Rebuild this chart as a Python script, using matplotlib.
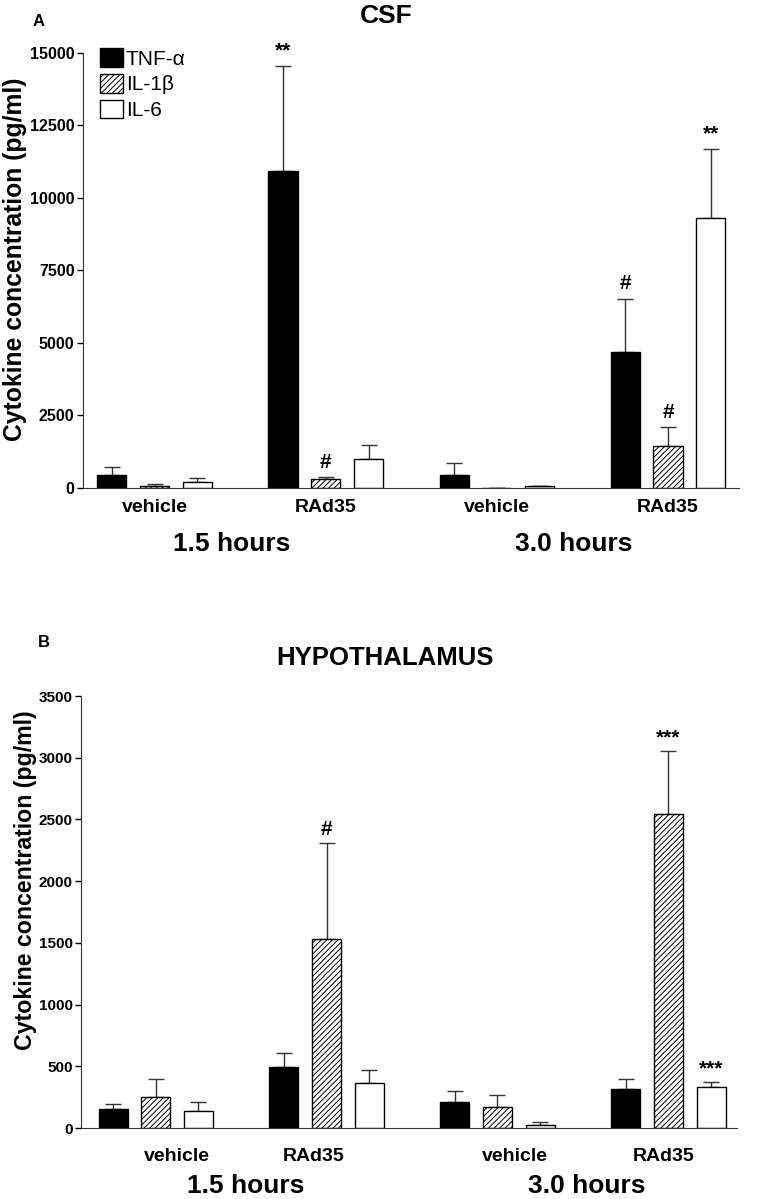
import matplotlib
matplotlib.use("Agg")
import matplotlib.pyplot as plt
import numpy as np

plt.rcParams['font.family'] = ['Liberation Sans', 'DejaVu Sans']
plt.rcParams['font.weight'] = 'bold'
plt.rcParams['hatch.linewidth'] = 0.7

cytokines = ['TNF-α', 'IL-1β', 'IL-6']
groups = ['vehicle', 'RAd35', 'vehicle', 'RAd35']
times = ['1.5 hours', '3.0 hours']

# CSF (pg/ml): mean and top of error bar, per group
csf_tnf = [442, 10914, 430, 4678]
csf_tnf_err = [698, 14545, 849, 6494]
csf_il1 = [58, 302, 0, 1420]
csf_il1_err = [105, 349, 0, 2075]
csf_il6 = [186, 1000, 35, 9293]
csf_il6_err = [337, 1477, 58, 11672]
csf_marks = [['', '**', '', '#'], ['', '#', '', '#'], ['', '', '', '**']]

# hypothalamus (pg/ml)
hyp_tnf = [157, 495, 211, 319]
hyp_tnf_err = [197, 605, 303, 397]
hyp_il1 = [249, 1535, 170, 2545]
hyp_il1_err = [395, 2312, 268, 3057]
hyp_il6 = [135, 362, 27, 332]
hyp_il6_err = [211, 473, 49, 370]
hyp_marks = [['', '', '', ''], ['', '#', '', '***'], ['', '', '', '***']]

faces = ['black', 'white', 'white']
hatches = [None, '//////', None]
group_x = np.arange(4) * 4.0
offsets = [-1, 0, 1]
width = 0.68


def draw_panel(ax, means, tops, marks, ymax, step, fs_tick, star_pad):
    for i in range(3):
        xs = group_x + offsets[i]
        m = np.array(means[i])
        up = np.array(tops[i]) - m
        ax.errorbar(xs, m, yerr=[np.zeros(4), up], fmt='none', ecolor='#333333',
                    elinewidth=1.0, capsize=5.5, capthick=1.0, zorder=1)
        ax.bar(xs, m, width=width, color=faces[i], edgecolor='black',
               hatch=hatches[i], linewidth=1.0, label=cytokines[i], zorder=2)
        for j in range(4):
            if marks[i][j]:
                ax.text(xs[j], tops[i][j] + star_pad, marks[i][j], ha='center',
                        va='bottom', fontsize=15, fontweight='bold')
    ax.set_ylim(0, ymax)
    ax.set_yticks(np.arange(0, ymax + 1, step))
    ax.set_xticks([])
    for s in ['top', 'right']:
        ax.spines[s].set_visible(False)
    ax.spines['left'].set_color('#333333')
    ax.spines['bottom'].set_color('#333333')
    ax.tick_params(axis='y', direction='out', length=4, width=1, labelsize=fs_tick, pad=2)
    for lbl in ax.get_yticklabels():
        lbl.set_fontweight('bold')


fig = plt.figure(figsize=(7.67, 11.99), dpi=100)

# panel A
axA = fig.add_axes([0.108, 0.5934, 0.8555, 0.3627])
draw_panel(axA, [csf_tnf, csf_il1, csf_il6], [csf_tnf_err, csf_il1_err, csf_il6_err],
           csf_marks, 15000, 2500, 11.5, 200)
axA.set_xlim(-1.68, 13.66)
axA.set_ylabel('Cytokine concentration (pg/ml)', fontsize=17.8, fontweight='bold')
axA.yaxis.set_label_coords(-0.085, 0.526)
axA.legend(loc='upper left', bbox_to_anchor=(0.026, 1.01), frameon=False,
           handlelength=1.1, handleheight=1.0, handletextpad=0.15, labelspacing=0.25,
           borderaxespad=0, borderpad=0, prop={'weight': 'normal', 'size': 15})
fig.text(0.043, 0.982, 'A', fontsize=12, fontweight='bold', va='center')
fig.text(0.503, 0.987, 'CSF', fontsize=19, fontweight='bold', ha='center', va='center')
for j, g in enumerate(groups):
    axA.text(group_x[j], -0.045, g, transform=axA.get_xaxis_transform(), ha='center',
             va='center', fontsize=14, fontweight='bold')
for k, t in enumerate(times):
    axA.text(group_x[2 * k] + 1.8, -0.13, t, transform=axA.get_xaxis_transform(),
             ha='center', va='center', fontsize=19, fontweight='bold')

# panel B
axB = fig.add_axes([0.1056, 0.0592, 0.8554, 0.3603])
draw_panel(axB, [hyp_tnf, hyp_il1, hyp_il6], [hyp_tnf_err, hyp_il1_err, hyp_il6_err],
           hyp_marks, 3500, 500, 11, 30)
axB.set_xlim(-1.75, 13.61)
axB.set_ylabel('Cytokine concentration (pg/ml)', fontsize=16.7, fontweight='bold')
axB.yaxis.set_label_coords(-0.067, 0.574)
fig.text(0.05, 0.464, 'B', fontsize=12, fontweight='bold', va='center')
fig.text(0.502, 0.451, 'HYPOTHALAMUS', fontsize=18.5, fontweight='bold', ha='center', va='center')
b_label_x = [0.5, -0.3, 0.4, -0.1]
for j, g in enumerate(groups):
    axB.text(group_x[j] + b_label_x[j], -0.065, g, transform=axB.get_xaxis_transform(),
             ha='center', va='center', fontsize=14, fontweight='bold')
for k, t in enumerate(times):
    axB.text(group_x[2 * k] + 2.1, -0.135, t, transform=axB.get_xaxis_transform(),
             ha='center', va='center', fontsize=19, fontweight='bold')

fig.savefig('out.png', dpi=100)
